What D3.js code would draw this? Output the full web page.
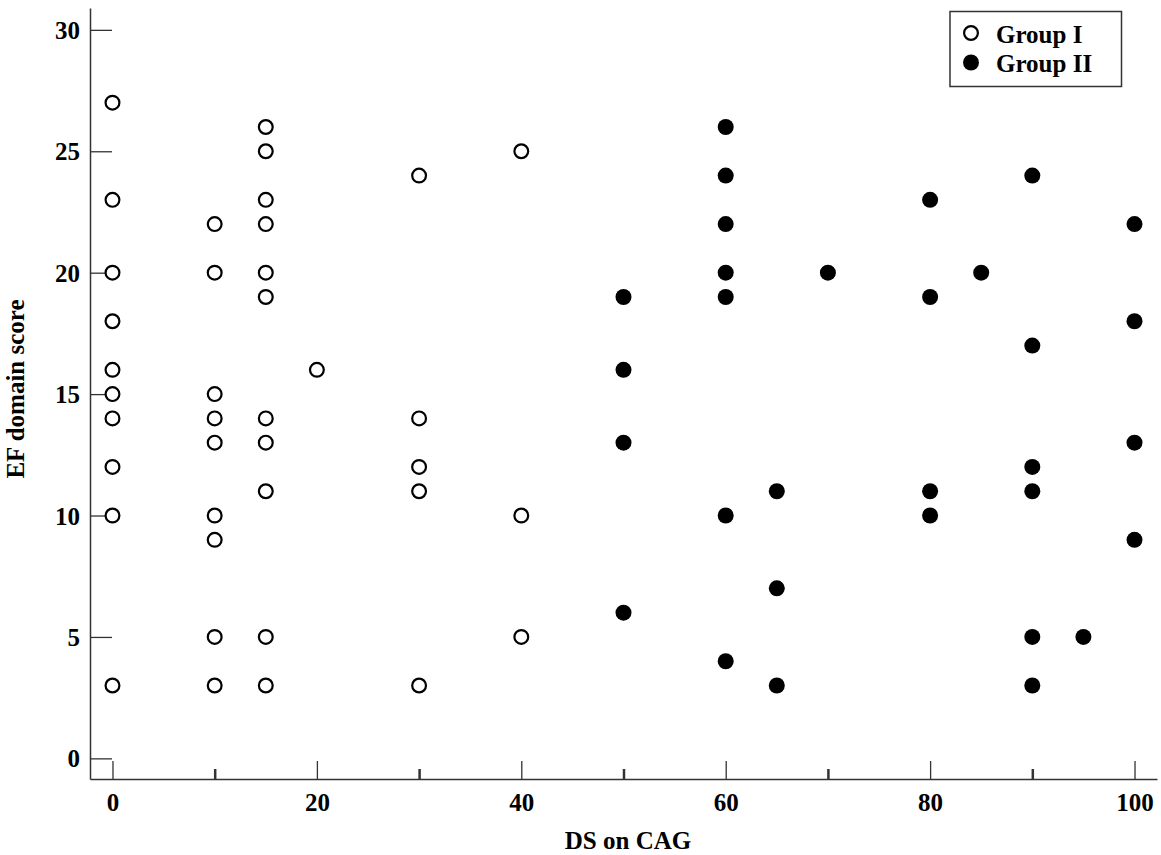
<!DOCTYPE html>
<html>
<head>
<meta charset="utf-8">
<script src="https://cdn.jsdelivr.net/npm/d3@7"></script>
<style>
  body { margin: 0; background: #fff; }
  svg text { font-family: "Liberation Serif", "Times New Roman", serif; font-weight: bold; }
</style>
</head>
<body>
<div id="chart"></div>
<script>
// Group I: open circles (DS on CAG, EF domain score)
const group1_ds = [0, 0, 0, 0, 0, 0, 0, 0, 0, 0,
                   10, 10, 10, 10, 10, 10, 10, 10, 10,
                   15, 15, 15, 15, 15, 15, 15, 15, 15, 15, 15,
                   20,
                   30, 30, 30, 30, 30,
                   40, 40, 40];
const group1_ef = [27, 23, 20, 18, 16, 15, 14, 12, 10, 3,
                   22, 20, 15, 14, 13, 10, 9, 5, 3,
                   26, 25, 23, 22, 20, 19, 14, 13, 11, 5, 3,
                   16,
                   24, 14, 12, 11, 3,
                   25, 10, 5];

// Group II: filled circles
const group2_ds = [50, 50, 50, 50,
                   60, 60, 60, 60, 60, 60, 60,
                   65, 65, 65,
                   70,
                   80, 80, 80, 80,
                   85,
                   90, 90, 90, 90, 90, 90,
                   95,
                   100, 100, 100, 100];
const group2_ef = [19, 16, 13, 6,
                   26, 24, 22, 20, 19, 10, 4,
                   11, 7, 3,
                   20,
                   23, 19, 11, 10,
                   20,
                   24, 17, 12, 11, 5, 3,
                   5,
                   22, 18, 13, 9];

const x_major = [0, 20, 40, 60, 80, 100];
const x_minor = [10, 30, 50, 70, 90];
const y_ticks = [0, 5, 10, 15, 20, 25, 30];
const series_names = ["Group I", "Group II"];

const width = 1161, height = 855;

const svg = d3.select("#chart").append("svg")
    .attr("width", width)
    .attr("height", height);

// Scales
const x = d3.scaleLinear().domain([-2.2, 102.2]).range([90, 1157]);
const y = d3.scaleLinear().domain([-0.85, 30.9]).range([779, 8]);

// X axis, major ticks with labels
const xAxis = svg.append("g")
    .attr("transform", "translate(0,779)")
    .call(d3.axisBottom(x).tickValues(x_major).tickSize(-18).tickSizeOuter(0).tickPadding(14));

// X axis, minor ticks (no labels)
const xMinor = svg.append("g")
    .attr("transform", "translate(0,779)")
    .call(d3.axisBottom(x).tickValues(x_minor).tickSize(-10).tickSizeOuter(0).tickFormat(""));
xMinor.select(".domain").remove();
xMinor.selectAll(".tick line").attr("stroke-width", 2.5);

// Y axis
const yAxis = svg.append("g")
    .attr("transform", "translate(90,0)")
    .call(d3.axisLeft(y).tickValues(y_ticks).tickSize(-22).tickSizeOuter(0).tickPadding(10));

[xAxis, yAxis, xMinor].forEach(function(g) {
    g.selectAll(".domain, .tick line").attr("stroke", "#333");
    g.select(".domain").attr("stroke-width", 1.5);
    g.selectAll("text")
        .attr("fill", "#000")
        .style("font-size", "25px");
});
xAxis.selectAll(".tick line").attr("stroke-width", 1.3);
yAxis.selectAll(".tick line").attr("stroke-width", 1.3);
yAxis.selectAll("text").attr("dy", "0.34em");

// Group I points
svg.append("g")
    .selectAll("circle")
    .data(d3.range(group1_ds.length))
    .join("circle")
    .attr("cx", (i) => x(group1_ds[i]))
    .attr("cy", (i) => y(group1_ef[i]))
    .attr("r", 6.9)
    .attr("fill", "#fff")
    .attr("stroke", "#000")
    .attr("stroke-width", 2.2);

// Group II points
svg.append("g")
    .selectAll("circle")
    .data(d3.range(group2_ds.length))
    .join("circle")
    .attr("cx", (i) => x(group2_ds[i]))
    .attr("cy", (i) => y(group2_ef[i]))
    .attr("r", 8)
    .attr("fill", "#000");

// Axis titles
svg.append("text")
    .attr("x", 628)
    .attr("y", 849)
    .attr("text-anchor", "middle")
    .style("font-size", "25px")
    .text("DS on CAG");

svg.append("text")
    .attr("transform", "translate(24,389) rotate(-90)")
    .attr("text-anchor", "middle")
    .style("font-size", "25px")
    .text("EF domain score");

// Legend
const legend = svg.append("g");
legend.append("rect")
    .attr("x", 950)
    .attr("y", 11.5)
    .attr("width", 171.5)
    .attr("height", 75)
    .attr("fill", "#fff")
    .attr("stroke", "#333")
    .attr("stroke-width", 1.5);

const items = legend.selectAll("g.item")
    .data(series_names)
    .join("g")
    .attr("class", "item")
    .attr("transform", (d, i) => "translate(0," + (i * 29.5) + ")");

items.append("circle")
    .attr("cx", 971)
    .attr("cy", 33)
    .attr("r", (d, i) => i === 0 ? 6.9 : 8)
    .attr("fill", (d, i) => i === 0 ? "#fff" : "#000")
    .attr("stroke", (d, i) => i === 0 ? "#000" : "none")
    .attr("stroke-width", 2.2);

items.append("text")
    .attr("x", 996)
    .attr("y", 42.5)
    .style("font-size", "25px")
    .text((d) => d);
</script>
</body>
</html>
